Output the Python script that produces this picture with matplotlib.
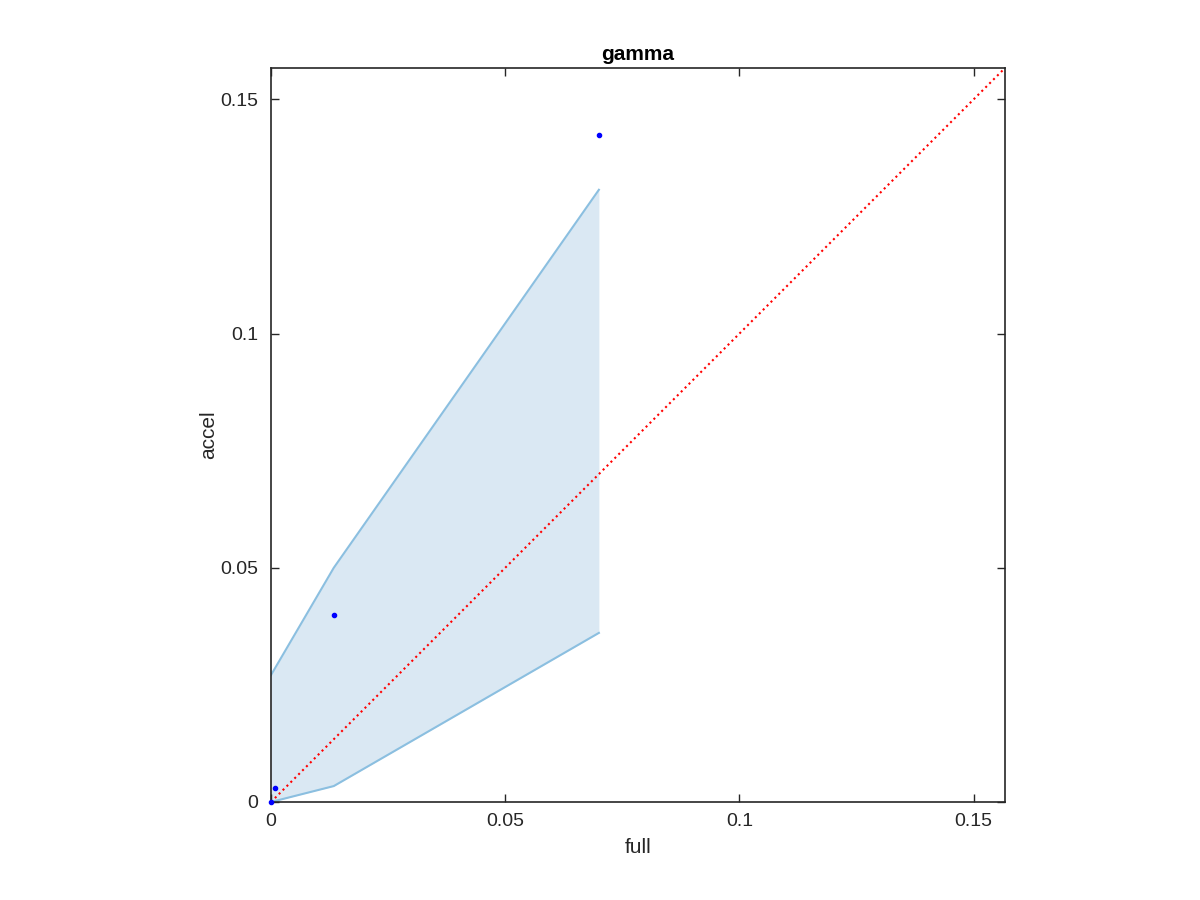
import matplotlib
matplotlib.use('Agg')
import matplotlib.pyplot as plt

plt.rcParams['font.family'] = ['Liberation Sans', 'DejaVu Sans']

# data
full_pts = [0.0, 0.00085, 0.0134, 0.0700]
accel_pts = [0.0, 0.0029, 0.0400, 0.1423]

band_x = [0.0, 0.0134, 0.0700]
band_lo = [0.0, 0.0034, 0.0361]
band_hi = [0.0271, 0.0500, 0.1307]

lim = 0.1567
xticks = [0, 0.05, 0.1, 0.15]
tick_labels = ['0', '0.05', '0.1', '0.15']

fig = plt.figure(figsize=(12, 9), dpi=100)
ax = fig.add_axes([271 / 1200, 98 / 900, 734 / 1200, 734 / 900])

ax.fill_between(band_x, band_lo, band_hi, color='#dae8f3', linewidth=0)
ax.plot(band_x, band_hi, color='#8bbfe0', lw=1.5)
ax.plot(band_x, band_lo, color='#8bbfe0', lw=1.5)
ax.plot([0, lim], [0, lim], 'r:', lw=1.5)
ax.plot(full_pts, accel_pts, 'o', color='blue', ms=3, mec='blue',
        clip_on=False, zorder=5)

ax.set_xlim(0, lim)
ax.set_ylim(0, lim)
ax.set_xticks(xticks)
ax.set_xticklabels(tick_labels)
ax.set_yticks(xticks)
ax.set_yticklabels(tick_labels)
ax.tick_params(direction='in', top=True, right=True, length=6, width=1,
               labelsize=14, colors='#262626')
ax.tick_params(axis='x', pad=8)
ax.tick_params(axis='y', pad=9)
for s in ax.spines.values():
    s.set_color('#262626')
    s.set_linewidth(1.2)

ax.set_xlabel('full', fontsize=15, color='#262626', labelpad=6)
ax.set_ylabel('accel', fontsize=15, color='#262626', labelpad=2)
ax.set_title('gamma', fontsize=15, fontweight='bold', pad=6)

plt.savefig('out.png', dpi=100)
